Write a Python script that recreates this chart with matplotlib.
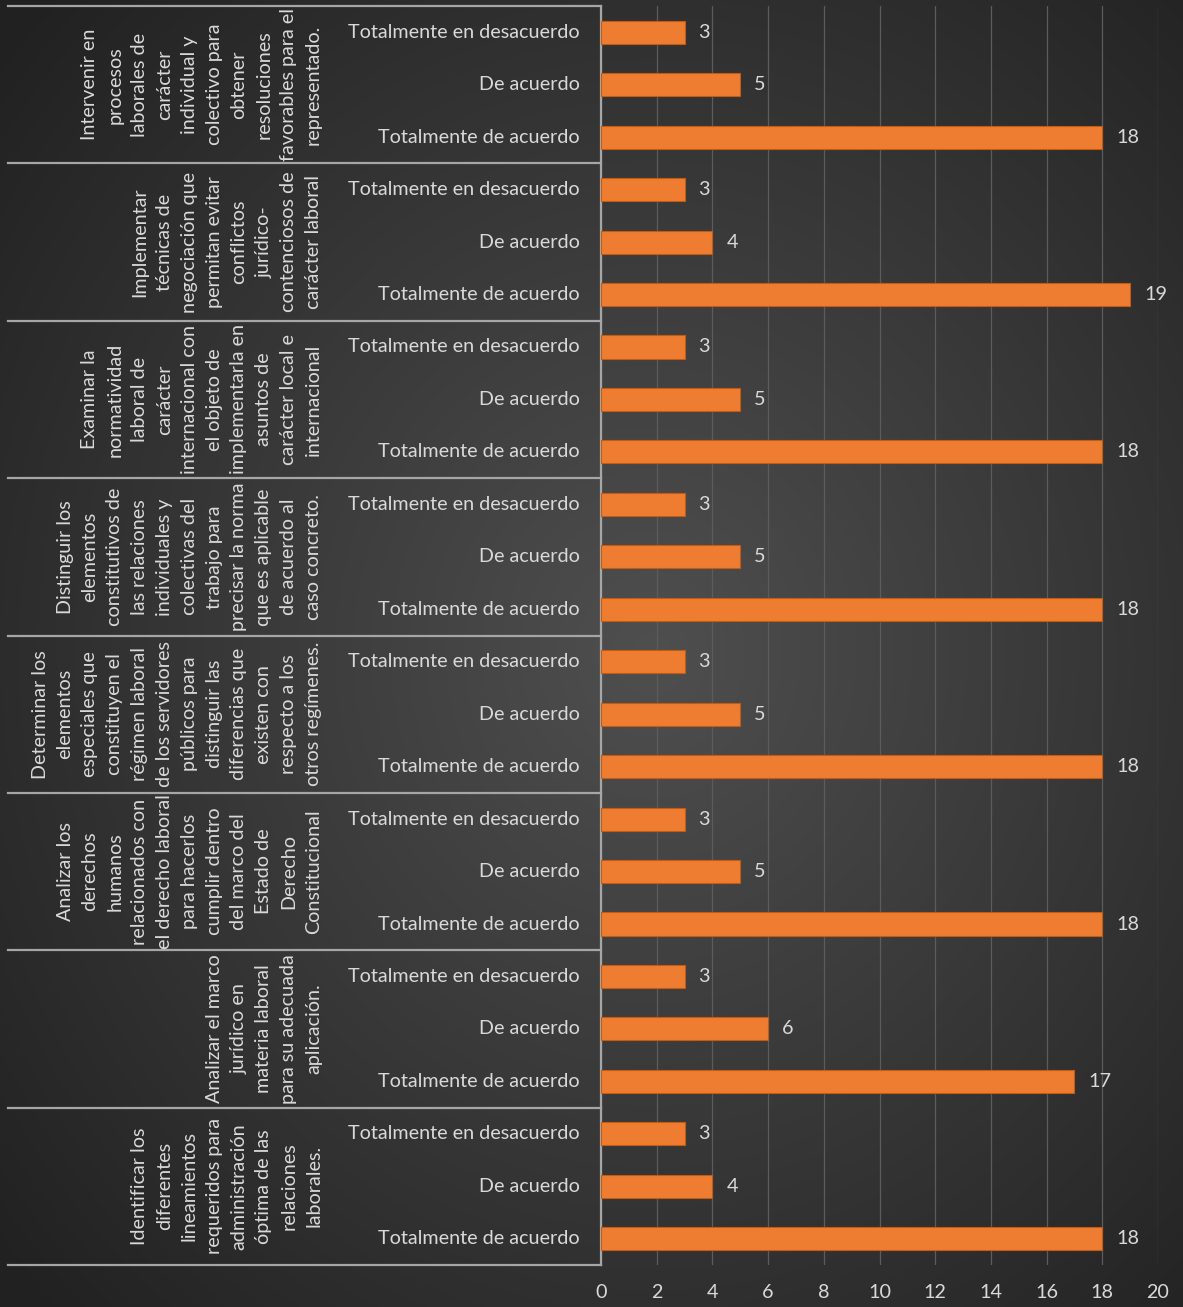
import matplotlib.pyplot as plt
import numpy as np

W, H = 1183, 1307

categories = ['Totalmente en desacuerdo', 'De acuerdo', 'Totalmente de acuerdo']

groups = [
    ['Intervenir en', 'procesos', 'laborales de', 'carácter', 'individual y',
     'colectivo para', 'obtener', 'resoluciones', 'favorables para el', 'representado.'],
    ['Implementar', 'técnicas de', 'negociación que', 'permitan evitar', 'conflictos',
     'jurídico-', 'contenciosos de', 'carácter laboral'],
    ['Examinar la', 'normatividad', 'laboral de', 'carácter', 'internacional con',
     'el objeto de', 'implementarla en', 'asuntos de', 'carácter local e', 'internacional'],
    ['Distinguir los', 'elementos', 'constitutivos de', 'las relaciones', 'individuales y',
     'colectivas del', 'trabajo para', 'precisar la norma', 'que es aplicable',
     'de acuerdo al', 'caso concreto.'],
    ['Determinar los', 'elementos', 'especiales que', 'constituyen el', 'régimen laboral',
     'de los servidores', 'públicos para', 'distinguir las', 'diferencias que',
     'existen con', 'respecto a los', 'otros regímenes.'],
    ['Analizar los', 'derechos', 'humanos', 'relacionados con', 'el derecho laboral',
     'para hacerlos', 'cumplir dentro', 'del marco del', 'Estado de', 'Derecho',
     'Constitucional'],
    ['Analizar el marco', 'jurídico en', 'materia laboral', 'para su adecuada', 'aplicación.'],
    ['Identificar los', 'diferentes', 'lineamientos', 'requeridos para', 'administración',
     'óptima de las', 'relaciones', 'laborales.'],
]

# values per group: desacuerdo, de acuerdo, totalmente de acuerdo
values = [
    [3, 5, 18],
    [3, 4, 19],
    [3, 5, 18],
    [3, 5, 18],
    [3, 5, 18],
    [3, 5, 18],
    [3, 6, 17],
    [3, 4, 18],
]

plt.rcParams['font.family'] = ['Lato', 'DejaVu Sans']
txt_col = '#d9d9d9'
line_col = '#a6a6a6'
fs = 14.2

fig = plt.figure(figsize=(W / 100, H / 100), dpi=100)

# dark radial background
bg = fig.add_axes([0, 0, 1, 1], zorder=-10)
yy, xx = np.mgrid[0:H, 0:W]
r = np.sqrt(((xx - W * 0.55) / W) ** 2 + ((yy - H * 0.5) / H) ** 2) / 0.72
r = np.clip(r, 0, 1)
shade = 0.31 - 0.18 * r
bg.imshow(np.dstack([shade] * 3), aspect='auto', extent=[0, 1, 0, 1])
bg.axis('off')

bottom = 1 - 1265 / H
height = (1265 - 6) / H
ax = fig.add_axes([601 / W, bottom, (1158 - 601) / W, height])
ax.set_facecolor('none')

n = len(groups) * len(categories)
ypos = np.arange(n)
vals = np.array(values).ravel()

ax.barh(ypos, vals, height=0.44, color='#ee7d31', edgecolor='#c55a11', linewidth=0.8, zorder=3)
for y, v in zip(ypos, vals):
    ax.text(v + 0.5, y, str(v), va='center', ha='left', color=txt_col, fontsize=fs)

ax.set_xlim(0, 20)
ax.set_ylim(n - 0.5, -0.5)
ax.set_xticks(np.arange(0, 21, 2))
ax.tick_params(axis='x', colors=txt_col, labelsize=fs, length=0, pad=14)
ax.set_yticks([])
ax.grid(axis='x', color='#5c5c5c', linewidth=0.9, zorder=0)
for s in ['top', 'right', 'bottom']:
    ax.spines[s].set_visible(False)
ax.spines['left'].set_color(line_col)
ax.spines['left'].set_linewidth(1.6)

# label area (multi-level category axis)
lab = fig.add_axes([8 / W, bottom, (601 - 8) / W, height], sharey=ax)
lab.set_xlim(0, 593)
lab.axis('off')
lab.set_facecolor('none')

for gi, lines in enumerate(groups):
    for ci, cat in enumerate(categories):
        lab.text(572, gi * 3 + ci, cat, ha='right', va='center', color=txt_col, fontsize=fs)
    lab.text(314, gi * 3 + 1, '\n'.join(lines), rotation=90, ha='right', va='center',
             multialignment='center', color=txt_col, fontsize=fs, linespacing=1.56)

for k in range(len(groups) + 1):
    lab.plot([0, 593], [k * 3 - 0.5] * 2, color=line_col, linewidth=1.6, clip_on=False)

fig.savefig('out.png', dpi=100)
